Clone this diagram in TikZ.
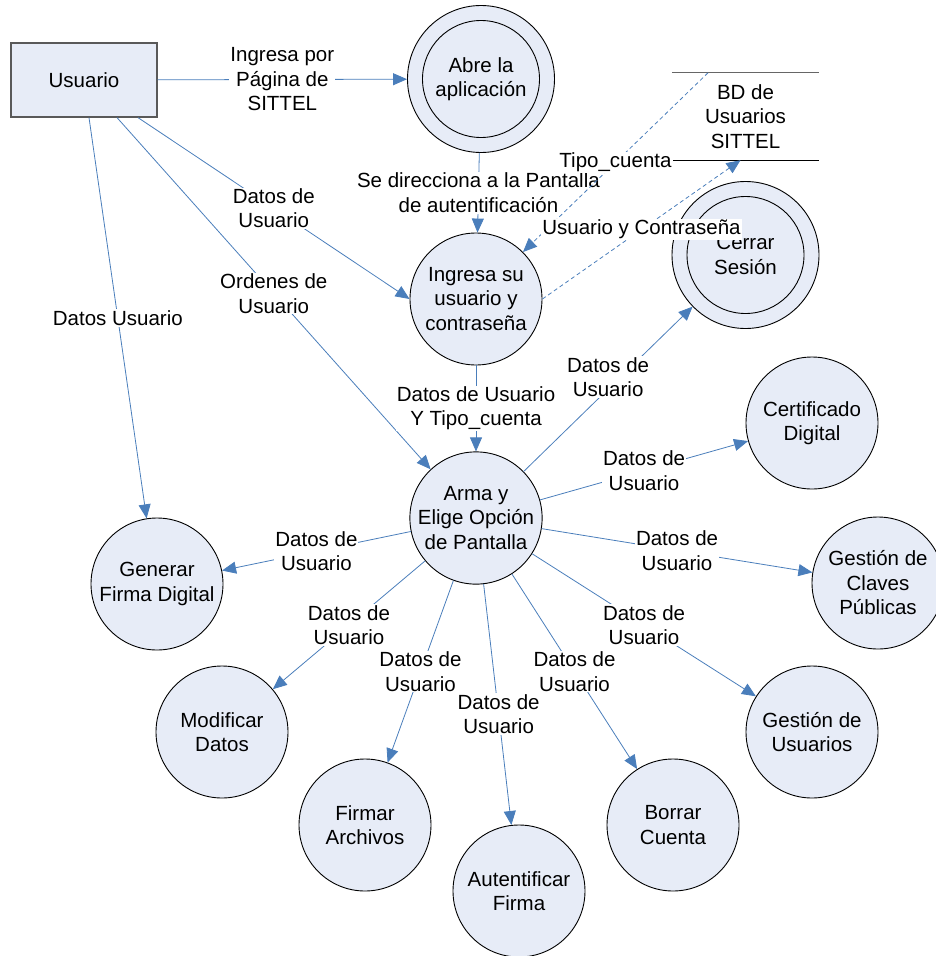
\documentclass[tikz,border=0pt]{standalone}
\usepackage{fontspec}
\setmainfont{Liberation Sans}
\usetikzlibrary{arrows.meta, positioning, shapes.geometric}
\definecolor{flowblue}{RGB}{74,126,187}
\definecolor{procfill}{RGB}{231,236,247}
\tikzset{
  proc/.style={circle, draw=black, fill=procfill, line width=0.9pt,
               minimum size=132pt, inner sep=0pt, align=center},
  dblproc/.style={proc, minimum size=147pt,
                  path picture={\draw[line width=0.9pt] (path picture bounding box.center) circle (58.5pt);}},
  entity/.style={rectangle, draw=black!65, fill=procfill, line width=1.2pt,
                 minimum width=146pt, minimum height=74pt},
  store/.style={rectangle, minimum width=147pt, minimum height=87pt, align=center},
  flow/.style={-{Triangle[length=14pt, width=12pt]}, flowblue, line width=0.8pt},
  dflow/.style={flow, dash pattern=on 4pt off 3pt},
  lbl/.style={fill=white, inner sep=1pt, align=center, text=black},
}

\begin{document}
\begin{tikzpicture}[x=1pt, y=-1pt, node distance=220pt,
                    font=\fontsize{20.5}{24.5}\selectfont]
  \useasboundingbox (0,0) rectangle (936,956);

  % Nodes
  \node[entity] (usuario) at (84,80) {Usuario};
  \node[dblproc] (abre) at (481,79) {Abre la\\aplicación};
  \node[proc, below of=abre, xshift=-5pt] (ingresa) {Ingresa su\\usuario y\\contraseña};
  \node[proc, below of=ingresa, yshift=1pt] (arma) {Arma y\\Elige Opción\\de Pantalla};

  % Data store
  \node[store] (bd) at (745.5,116.5) {BD de\\Usuarios\\SITTEL};
  \draw[black!60, line width=1.2pt] (bd.north west) -- (bd.north east);
  \draw[line width=1pt] (bd.south west) -- (bd.south east);

  \node[dblproc] (cerrar) at (745.5,255) {Cerrar\\Sesión};

  % Options of the screen
  \node[proc] (gen) at (157,584) {Generar\\Firma Digital};
  \node[proc] (cert) at (812,423) {Certificado\\Digital};
  \node[proc] (claves) at (878,583) {Gestión de\\Claves\\Públicas};
  \node[proc] (gusu) at (812,732) {Gestión de\\Usuarios};
  \node[proc] (borrar) at (673,825) {Borrar\\Cuenta};
  \node[proc] (autent) at (519,891) {Autentificar\\Firma};
  \node[proc] (firmar) at (365,825) {Firmar\\Archivos};
  \node[proc] (modif) at (222,732) {Modificar\\Datos};

  % Flows from the user
  \draw[flow] (usuario) -- node[lbl] {Ingresa por\\Página de\\SITTEL} (abre);
  \draw[flow] ([xshift=54pt]usuario.south) -- node[lbl] {Datos de\\Usuario} (ingresa.west);
  \draw[flow] ([xshift=33pt]usuario.south) -- node[lbl] {Ordenes de\\Usuario} (arma.133);
  \draw[flow] ([xshift=5pt]usuario.south) -- node[lbl] {Datos Usuario} (gen.99);

  \draw[flow] (abre) -- node[lbl] {Se direcciona a la Pantalla\\de autentificación} (ingresa);
  \draw[flow] (ingresa) -- node[lbl] {Datos de Usuario\\Y Tipo\_cuenta} (arma);

  % Flows with the data store
  \draw[dflow] ([xshift=-37.5pt]bd.north) -- node[lbl] {Tipo\_cuenta} (ingresa.45);
  \draw[dflow] (ingresa.east) -- node[lbl] {Usuario y Contraseña} ([xshift=-5pt]bd.south);

  % Flows from the screen
  \draw[flow] (arma) -- node[lbl, yshift=12pt] {Datos de\\Usuario} (cerrar);
  \draw[flow] (arma) -- node[lbl] {Datos de\\Usuario} (cert);
  \draw[flow] (arma) -- node[lbl] {Datos de\\Usuario} (claves);
  \draw[flow] (arma) -- node[lbl] {Datos de\\Usuario} (gusu);
  \draw[flow] (arma) -- node[lbl] {Datos de\\Usuario} (borrar);
  \draw[flow] (arma) -- node[lbl, pos=0.54] {Datos de\\Usuario} (autent);
  \draw[flow] (arma) -- node[lbl] {Datos de\\Usuario} (firmar);
  \draw[flow] (arma) -- node[lbl] {Datos de\\Usuario} (modif);
  \draw[flow] (arma) -- node[lbl] {Datos de\\Usuario} (gen);
\end{tikzpicture}
\end{document}
